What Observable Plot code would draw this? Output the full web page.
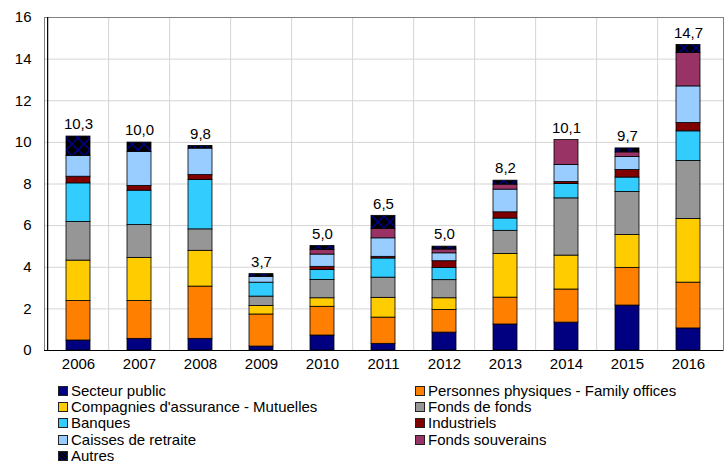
<!DOCTYPE html>
<html>
<head>
<meta charset="utf-8">
<script src="https://cdn.jsdelivr.net/npm/d3@7"></script>
<script src="https://cdn.jsdelivr.net/npm/@observablehq/plot@0.6"></script>
<style>
  body { margin: 0; background: #fff; font-family: "Liberation Sans", Arial, sans-serif; }
  #chart { width: 726px; }
  .legend { position: relative; height: 84px; font-size: 15px; line-height: 14px; color: #000; }
  .legend .item { position: absolute; display: flex; align-items: center; height: 14px; white-space: nowrap; }
  .legend .sw { width: 8px; height: 8px; border: 1px solid #222; margin-right: 3px; flex: none; }
</style>
</head>
<body>
<div id="chart"></div>
<script>
// Capital levé par type de souscripteur (Md€), 2006-2016
const years = ["2006", "2007", "2008", "2009", "2010", "2011", "2012", "2013", "2014", "2015", "2016"];

const seriesNames = [
  "Secteur public",
  "Personnes physiques - Family offices",
  "Compagnies d'assurance - Mutuelles",
  "Fonds de fonds",
  "Banques",
  "Industriels",
  "Caisses de retraite",
  "Fonds souverains",
  "Autres"
];

const secteurPublic   = [0.48, 0.56, 0.56, 0.19, 0.72, 0.32, 0.86, 1.25, 1.34, 2.16, 1.06];
const personnes       = [1.90, 1.82, 2.51, 1.54, 1.38, 1.26, 1.09, 1.29, 1.59, 1.81, 2.20];
const assurance       = [1.94, 2.07, 1.72, 0.41, 0.41, 0.95, 0.56, 2.10, 1.63, 1.58, 3.06];
const fondsDeFonds    = [1.86, 1.58, 1.03, 0.45, 0.88, 0.97, 0.87, 1.11, 2.75, 2.07, 2.79];
const banques         = [1.85, 1.65, 2.37, 0.67, 0.48, 0.92, 0.59, 0.59, 0.69, 0.69, 1.42];
const industriels     = [0.32, 0.23, 0.24, 0.00, 0.15, 0.08, 0.32, 0.30, 0.10, 0.36, 0.40];
const caisses         = [1.00, 1.63, 1.27, 0.28, 0.59, 0.89, 0.38, 1.09, 0.81, 0.63, 1.76];
const souverains      = [0.00, 0.00, 0.00, 0.00, 0.22, 0.45, 0.18, 0.24, 1.20, 0.22, 1.60];
const autres          = [0.93, 0.45, 0.13, 0.13, 0.19, 0.63, 0.14, 0.19, 0.00, 0.19, 0.39];

const seriesValues = [secteurPublic, personnes, assurance, fondsDeFonds, banques, industriels, caisses, souverains, autres];

const seriesColors = ["#000080", "#ff8000", "#ffcc00", "#969696", "#33ccff", "#800000", "#99ccff", "#993366", "url(#autres-hatch)"];
const legendSwatches = ["#000080", "#ff8000", "#ffcc00", "#969696", "#33ccff", "#800000", "#99ccff", "#993366",
  "repeating-linear-gradient(45deg, #000 0 2px, #000080 2px 3px)"];

const yTicks = [0, 2, 4, 6, 8, 10, 12, 14, 16];

// long table for the stacked bars
const rows = [];
seriesNames.forEach((name, s) => {
  years.forEach((year, i) => {
    const v = seriesValues[s][i];
    if (v > 0) rows.push({year, series: name, value: v});
  });
});

const totals = years.map((year, i) => ({
  year,
  total: d3.sum(seriesValues, (vals) => vals[i])
}));
const fmt = (v) => (Math.round(v * 10) / 10).toFixed(1).replace(".", ",");

const width = 726, height = 378;
const marginLeft = 44, marginRight = 3, marginTop = 17, marginBottom = 28;
const step = (width - marginLeft - marginRight) / years.length;

const svg = Plot.plot({
  width, height, marginLeft, marginRight, marginTop, marginBottom,
  style: {fontFamily: "'Liberation Sans', Arial, sans-serif", fontSize: "15px", color: "#000", background: "#fff"},
  x: {domain: years, paddingInner: 0.6, paddingOuter: 0.3, label: null, tickSize: 0, tickPadding: 8},
  y: {domain: [0, 16], ticks: yTicks, label: null, tickSize: 0, tickPadding: 13},
  color: {domain: seriesNames, range: seriesColors},
  marks: [
    Plot.ruleY(yTicks.filter((t) => t > 0 && t < 16), {stroke: "#d4d4d4"}),
    Plot.ruleX(years.slice(1), {dx: -step / 2, stroke: "#d4d4d4"}),
    Plot.frame({stroke: "#808080"}),
    Plot.barY(rows, {x: "year", y: "value", fill: "series", stroke: "#000", strokeWidth: 0.8, order: null}),
    Plot.text(totals, {x: "year", y: "total", text: (d) => fmt(d.total), dy: -12, fontSize: 15, fill: "#000"}),
    Plot.ruleY([0], {stroke: "#000", strokeWidth: 1.2}),
    Plot.ruleX([years[0]], {dx: -step / 2, stroke: "#000", strokeWidth: 1.2})
  ]
});

// crosshatch fill for "Autres"
const defs = d3.select(svg).insert("defs", ":first-child");
const pat = defs.append("pattern")
  .attr("id", "autres-hatch")
  .attr("patternUnits", "userSpaceOnUse")
  .attr("width", 12).attr("height", 12);
pat.append("rect").attr("width", 12).attr("height", 12).attr("fill", "#000");
pat.append("path").attr("d", "M0,0L12,12M12,0L0,12").attr("stroke", "#000080").attr("stroke-width", 1.6);

const chart = document.getElementById("chart");
chart.appendChild(svg);

// legend, two columns
const legend = d3.select(chart).append("div").attr("class", "legend");
const colX = [58, 415];
seriesNames.forEach((name, i) => {
  const col = i % 2, row = Math.floor(i / 2);
  const item = legend.append("div").attr("class", "item")
    .style("left", colX[col] + "px")
    .style("top", (6 + row * 16.2) + "px");
  item.append("span").attr("class", "sw").style("background", legendSwatches[i]);
  item.append("span").text(name);
});
</script>
</body>
</html>
